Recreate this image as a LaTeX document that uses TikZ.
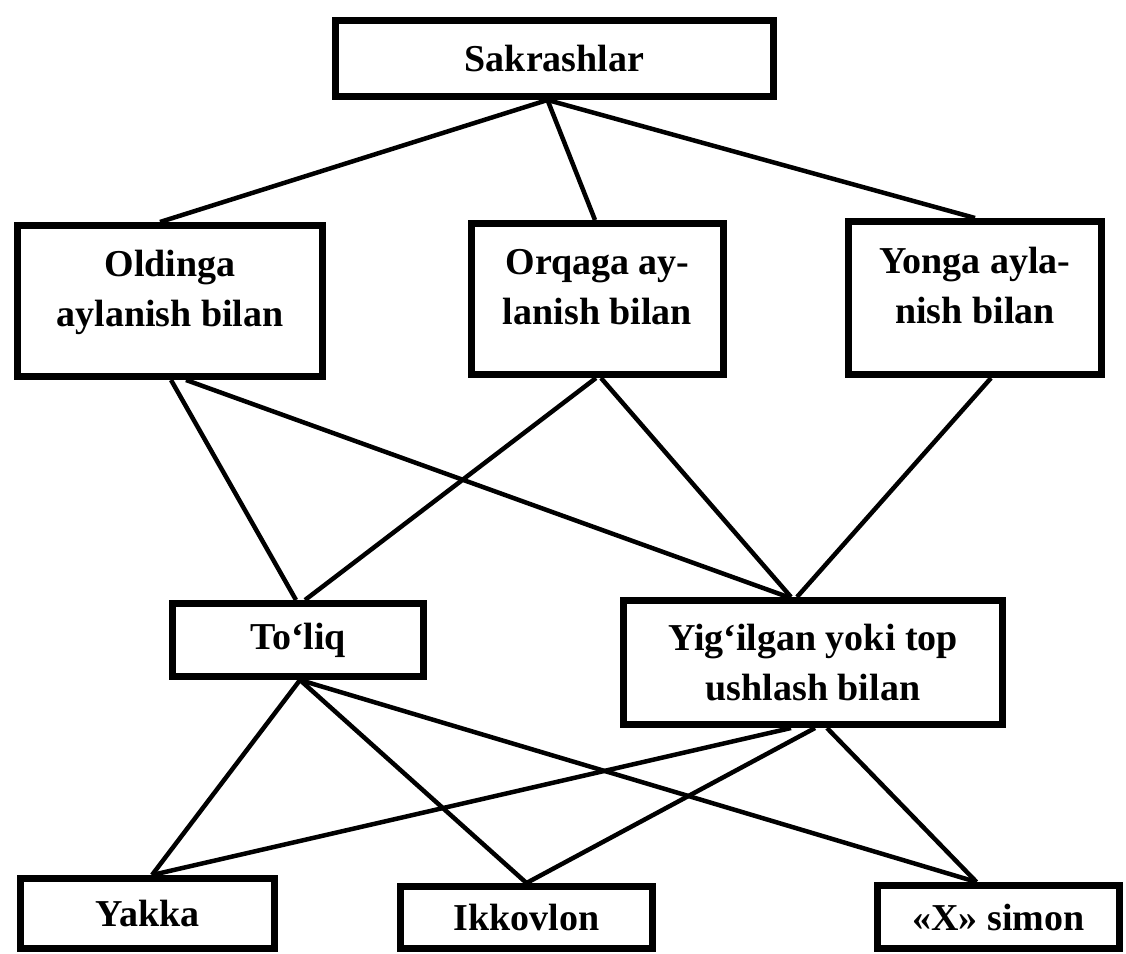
\documentclass[tikz,border=0pt]{standalone}
\usepackage{fontspec}
\setmainfont{Liberation Serif}
\usepackage{tikz}

% extra room under the text of the middle row
\newcommand{\lowgap}{\rule[-25pt]{0pt}{0pt}}

\begin{document}
\begin{tikzpicture}[
    x=1pt, y=-1pt,
    box/.style={draw, line width=7pt, inner sep=0pt, align=center,
        font=\fontsize{38}{50}\selectfont\bfseries},
    link/.style={line width=4.5pt}
]
    \useasboundingbox (0,0) rectangle (1126,953);

    % Top box
    \node[box, minimum width=438pt, minimum height=76pt] (sak) at (554.5,58.5) {Sakrashlar};

    % Kinds of turn
    \node[box, minimum width=305pt, minimum height=151pt] (old) at (170,301) {Oldinga\\aylanish bilan\lowgap};
    \node[box, minimum width=252pt, minimum height=151pt] (orq) at (597.5,299) {Orqaga ay-\\lanish bilan\lowgap};
    \node[box, minimum width=253pt, minimum height=153pt] (yon) at (975,298) {Yonga ayla-\\nish bilan\lowgap};

    % Body position
    \node[box, minimum width=251pt, minimum height=73pt] (tol) at (298,640) {To‘liq};
    \node[box, minimum width=379pt, minimum height=124pt] (yig) at (813,662.5) {Yig‘ilgan yoki top\\ushlash bilan};

    % Performers
    \node[box, minimum width=254pt, minimum height=70pt] (yak) at (147.5,913.5) {Yakka};
    \node[box, minimum width=252pt, minimum height=62pt] (ikk) at (526.5,917.5) {Ikkovlon};
    \node[box, minimum width=242pt, minimum height=63pt] (xsi) at (998.5,917) {«X» simon};

    % Top to middle row
    \draw[link] ([xshift=-7pt]sak.south) -- ([xshift=-10pt]old.north);
    \draw[link] ([xshift=-7pt]sak.south) -- ([xshift=-2.5pt]orq.north);
    \draw[link] ([xshift=-7pt]sak.south) -- (yon.north);

    % Middle row to body position
    \draw[link] ([xshift=1pt]old.south) -- ([xshift=-2pt]tol.north);
    \draw[link] ([xshift=16pt]old.south) -- ([xshift=-25pt]yig.north);
    \draw[link] ([xshift=-1.5pt]orq.south) -- ([xshift=7pt]tol.north);
    \draw[link] ([xshift=3.5pt]orq.south) -- ([xshift=-22pt]yig.north);
    \draw[link] ([xshift=16pt]yon.south) -- ([xshift=-16pt]yig.north);

    % Body position to performers
    \draw[link] ([xshift=2pt]tol.south) -- ([xshift=4.5pt]yak.north);
    \draw[link] ([xshift=2pt]tol.south) -- (ikk.north);
    \draw[link] ([xshift=2pt]tol.south) -- ([xshift=-22pt]xsi.north);
    \draw[link] ([xshift=-22pt]yig.south) -- ([xshift=4.5pt]yak.north);
    \draw[link] ([xshift=2pt]yig.south) -- (ikk.north);
    \draw[link] ([xshift=14pt]yig.south) -- ([xshift=-22pt]xsi.north);
\end{tikzpicture}
\end{document}
